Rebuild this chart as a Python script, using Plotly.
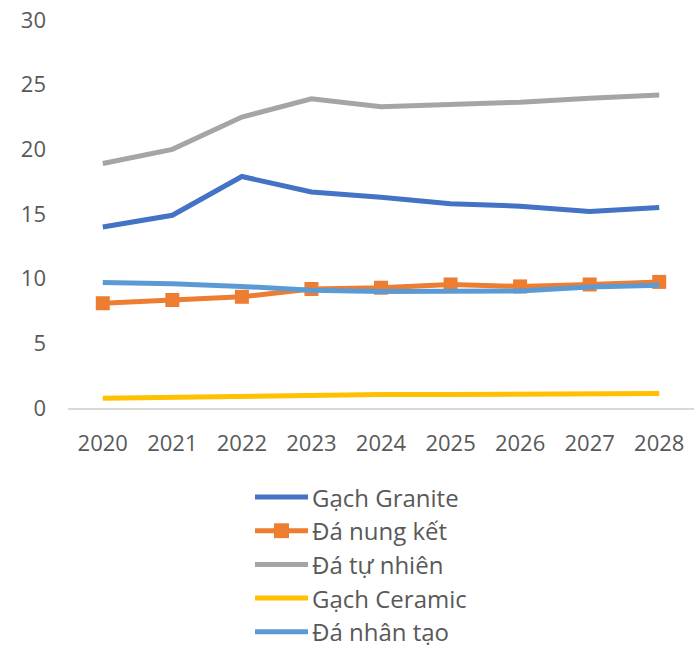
import plotly.graph_objects as go

# Năm dự báo
years = ["2020", "2021", "2022", "2023", "2024", "2025", "2026", "2027", "2028"]

# Giá trị theo từng loại vật liệu
gach_granite = [14.0, 14.9, 17.9, 16.7, 16.3, 15.8, 15.6, 15.2, 15.5]
da_nung_ket = [8.1, 8.35, 8.6, 9.2, 9.3, 9.55, 9.4, 9.55, 9.75]
da_tu_nhien = [18.9, 20.0, 22.5, 23.9, 23.3, 23.5, 23.65, 23.95, 24.2]
gach_ceramic = [0.75, 0.82, 0.9, 1.05, 1.05, 1.05, 1.05, 1.12, 1.13]
da_nhan_tao = [9.7, 9.6, 9.4, 9.1, 9.0, 9.05, 9.05, 9.35, 9.5]

series_names = ["Gạch Granite", "Đá nung kết", "Đá tự nhiên", "Gạch Ceramic", "Đá nhân tạo"]
series_values = [gach_granite, da_nung_ket, da_tu_nhien, gach_ceramic, da_nhan_tao]
colors = ["#4472C4", "#ED7D31", "#A5A5A5", "#FFC000", "#5B9BD5"]
with_marker = [False, True, False, False, False]

W, H = 698, 650
ML, MR, MT, MB = 68, 4, 16, 242
PW, PH = W - ML - MR, H - MT - MB
TEXT = "#595959"
FONT = "Open Sans"

fig = go.Figure()

# Draw order: lighter series underneath
order = [2, 0, 3, 1, 4]
for i in order:
    fig.add_trace(go.Scatter(
        x=years, y=series_values[i], name=series_names[i],
        mode="lines+markers" if with_marker[i] else "lines",
        line=dict(color=colors[i], width=5),
        marker=dict(symbol="square", size=14, color=colors[i]),
        showlegend=False,
    ))

# Legend drawn below the plot
def px_x(px):
    return (px - ML) / PW

def px_y(py):
    return (MT + PH - py) / PH

shapes = []
annotations = []
row_y = [498, 532, 566, 600, 634]
for i, name in enumerate(series_names):
    yc = px_y(row_y[i])
    shapes.append(dict(type="line", xref="paper", yref="paper",
                       x0=px_x(255), x1=px_x(308), y0=yc, y1=yc,
                       line=dict(color=colors[i], width=5)))
    if with_marker[i]:
        shapes.append(dict(type="rect", xref="paper", yref="paper",
                           x0=px_x(274), x1=px_x(289),
                           y0=px_y(row_y[i] + 7.5), y1=px_y(row_y[i] - 7.5),
                           fillcolor=colors[i], line=dict(width=0)))
    annotations.append(dict(text=name, xref="paper", yref="paper",
                            x=px_x(310), y=yc, xanchor="left", yanchor="middle",
                            showarrow=False,
                            font=dict(family=FONT, size=24, color=TEXT)))

fig.update_layout(
    width=W, height=H,
    margin=dict(l=ML, r=MR, t=MT, b=MB),
    paper_bgcolor="white", plot_bgcolor="white",
    font=dict(family=FONT, size=22, color=TEXT),
    shapes=shapes, annotations=annotations,
    showlegend=False,
)
fig.update_xaxes(
    type="category", range=[-0.5, 8.5],
    showgrid=False, zeroline=False,
    showline=True, linecolor="#D9D9D9", linewidth=2,
    ticks="", ticklabelstandoff=15, ticklabeloverflow="allow",
    tickfont=dict(family=FONT, size=22, color=TEXT),
)
fig.update_yaxes(
    range=[0, 30], dtick=5,
    showgrid=False, zeroline=False, showline=False,
    ticks="", ticklabelstandoff=21, ticklabeloverflow="allow",
    tickfont=dict(family=FONT, size=22, color=TEXT),
)

fig.write_html("out.html")
